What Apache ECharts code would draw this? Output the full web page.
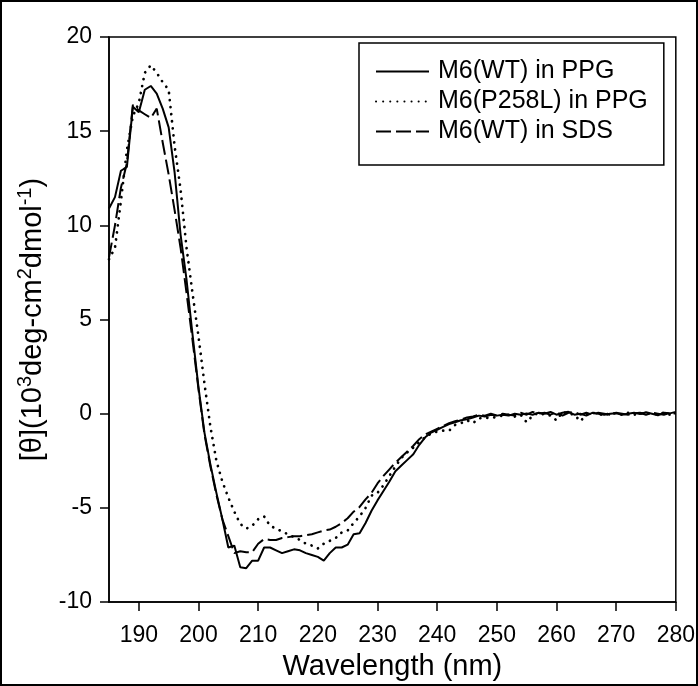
<!DOCTYPE html>
<html>
<head>
<meta charset="utf-8">
<script src="https://cdn.jsdelivr.net/npm/echarts@6/dist/echarts.min.js"></script>
<style>
html,body{margin:0;padding:0;background:#fff;}
#chart{width:698px;height:686px;}
</style>
</head>
<body>
<div id="chart"></div>
<script>
// Wavelength (nm)
const wavelengths = [185,186,187,188,189,190,191,192,193,194,195,196,197,198,199,200,201,202,203,204,205,206,207,208,209,210,211,212,213,214,215,216,217,218,219,220,221,222,223,224,225,226,227,228,229,230,231,232,233,234,235,236,237,238,239,240,241,242,243,244,245,246,247,248,249,250,251,252,253,254,255,256,257,258,259,260,261,262,263,264,265,266,267,268,269,270,271,272,273,274,275,276,277,278,279,280];

// M6(WT) in PPG
const wtPPG = [10.9,11.5,12.9,13.1,16.3,16.0,17.2,17.4,17.0,16.2,15.2,12.8,9.5,7.1,4.2,1.4,-1.0,-2.7,-4.2,-5.6,-7.1,-7.0,-8.15,-8.2,-7.8,-7.8,-7.1,-7.1,-7.25,-7.4,-7.3,-7.2,-7.25,-7.4,-7.5,-7.6,-7.8,-7.4,-7.1,-7.1,-6.95,-6.4,-6.35,-5.8,-5.15,-4.6,-4.1,-3.6,-3.05,-2.75,-2.45,-2.15,-1.65,-1.25,-1.0,-0.85,-0.7,-0.55,-0.45,-0.35,-0.3,-0.2,-0.1,-0.15,-0.05,-0.1,-0.05,-0.1,0.0,-0.05,0.02,-0.05,0.05,0.0,0.1,-0.05,0.05,0.1,-0.05,0.0,-0.1,0.05,0.0,-0.05,0.0,0.02,-0.05,0.0,0.05,-0.02,0.08,0.0,-0.08,0.05,0.02,0.1];

// M6(P258L) in PPG
const p258lPPG = [8.2,8.8,11.3,14.0,15.8,16.5,18.1,18.5,18.1,17.6,17.2,14.2,11.9,8.8,6.4,4.1,1.6,-0.7,-2.5,-3.6,-4.45,-5.2,-5.85,-6.1,-5.95,-5.6,-5.45,-5.95,-6.1,-6.25,-6.4,-6.55,-6.7,-6.9,-7.0,-7.15,-6.9,-6.75,-6.6,-6.3,-6.2,-5.8,-5.45,-5.0,-4.35,-4.2,-3.8,-3.3,-2.8,-2.35,-2.05,-1.8,-1.5,-1.25,-1.05,-0.95,-0.9,-0.9,-0.6,-0.5,-0.35,-0.5,-0.25,-0.2,-0.25,-0.15,-0.1,-0.05,-0.15,-0.05,-0.45,-0.1,0.05,-0.05,-0.1,-0.35,0.1,0.0,-0.05,-0.4,-0.05,0.05,0.0,-0.1,0.05,0.0,-0.05,0.05,-0.05,0.0,0.05,-0.05,0.0,0.05,-0.05,0.05];

// M6(WT) in SDS
const wtSDS = [8.3,10.0,12.0,13.3,16.4,16.1,15.9,15.7,16.2,14.4,12.7,10.8,8.8,6.4,3.9,1.3,-1.1,-2.8,-4.3,-5.6,-6.5,-7.4,-7.3,-7.35,-7.35,-6.9,-6.65,-6.7,-6.7,-6.6,-6.55,-6.5,-6.5,-6.45,-6.4,-6.3,-6.2,-6.15,-6.0,-5.8,-5.55,-5.2,-4.95,-4.55,-4.2,-3.7,-3.3,-2.95,-2.6,-2.3,-2.0,-1.7,-1.35,-1.1,-0.95,-0.8,-0.65,-0.5,-0.4,-0.3,-0.2,-0.15,-0.05,-0.1,0.0,-0.1,0.0,-0.05,-0.1,0.05,-0.05,0.1,0.0,0.05,-0.05,0.08,-0.1,0.05,0.1,-0.05,0.05,-0.05,0.05,0.0,-0.05,0.05,0.0,-0.05,0.02,0.05,-0.05,0.05,0.0,-0.05,0.05,0.0];

const seriesNames = ['M6(WT) in PPG', 'M6(P258L) in PPG', 'M6(WT) in SDS'];
const xTicks = [190,200,210,220,230,240,250,260,270,280];

const FONT = '"Liberation Sans", Arial, sans-serif';
function pairs(vals){ return wavelengths.map((w,i)=>[w, vals[i]]); }

const chart = echarts.init(document.getElementById('chart'), null, {renderer:'canvas'});
chart.setOption({
  animation: false,
  backgroundColor: '#fff',
  graphic: [{
    type: 'rect',
    shape: {x: 1, y: 1, width: 696, height: 684},
    style: {fill: 'none', stroke: '#000', lineWidth: 2},
    silent: true
  }],
  grid: {left: 109, right: 21, top: 37, bottom: 82, show: true, borderColor: '#000', borderWidth: 1.5, backgroundColor: 'transparent'},
  legend: {
    orient: 'vertical',
    left: 359, top: 43,
    padding: [16, 16, 21, 16],
    itemGap: 5,
    itemWidth: 53, itemHeight: 14,
    borderColor: '#000', borderWidth: 1.5,
    backgroundColor: '#fff',
    itemStyle: {opacity: 0},
    textStyle: {fontFamily: FONT, fontSize: 25, color: '#000', padding: [0,0,0,4]},
    data: seriesNames
  },
  xAxis: {
    type: 'value', min: 185, max: 280,
    name: 'Wavelength (nm)', nameLocation: 'middle', nameGap: 46,
    nameTextStyle: {fontFamily: FONT, fontSize: 29, color: '#000'},
    axisLine: {show: true, onZero: false, lineStyle: {color: '#000', width: 1.5}},
    axisTick: {show: true, inside: false, length: 9, lineStyle: {color: '#000', width: 1.5}, customValues: xTicks},
    axisLabel: {fontFamily: FONT, fontSize: 23, color: '#000', margin: 22, customValues: xTicks},
    splitLine: {show: false}
  },
  yAxis: {
    type: 'value', min: -10, max: 20, interval: 5,
    name: '{a|[θ](10}{s|3}{a|deg-cm}{s|2}{a|dmol}{s|-1}{a|)}',
    nameLocation: 'middle', nameRotate: 90, nameGap: 44,
    nameTextStyle: {
      fontFamily: FONT, color: '#000',
      rich: {
        a: {fontFamily: FONT, fontSize: 29, color: '#000', lineHeight: 32, verticalAlign: 'bottom'},
        s: {fontFamily: FONT, fontSize: 20, color: '#000', verticalAlign: 'top'}
      }
    },
    axisLine: {show: true, onZero: false, lineStyle: {color: '#000', width: 1.5}},
    axisTick: {show: true, inside: false, length: 9, lineStyle: {color: '#000', width: 1.5}},
    axisLabel: {fontFamily: FONT, fontSize: 23, color: '#000', margin: 17},
    splitLine: {show: false}
  },
  series: [
    {name: seriesNames[0], type: 'line', data: pairs(wtPPG), symbol: 'none', lineStyle: {color: '#000', width: 2}, itemStyle: {color: '#000'}},
    {name: seriesNames[1], type: 'line', data: pairs(p258lPPG), symbol: 'none', lineStyle: {color: '#000', width: 2.7, type: [0.1, 7], cap: 'round'}, itemStyle: {color: '#000'}},
    {name: seriesNames[2], type: 'line', data: pairs(wtSDS), symbol: 'none', lineStyle: {color: '#000', width: 2, type: [15, 5]}, itemStyle: {color: '#000'}}
  ]
});
</script>
</body>
</html>
